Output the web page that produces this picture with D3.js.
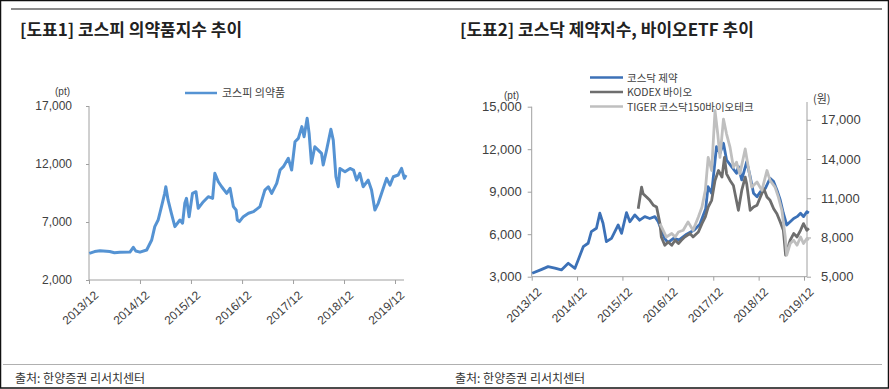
<!DOCTYPE html>
<html><head><meta charset="utf-8">
<script src="https://cdn.jsdelivr.net/npm/d3@7"></script>
<style>
body{margin:0;background:#fff;}
svg{display:block;}
text{font-family:"Liberation Sans","Noto Sans CJK KR",Arial,sans-serif;}
</style></head><body>
<svg id="c" width="889" height="389"></svg>
<script>
// ---------- DATA ----------
const xTickLabels = ["2013/12","2014/12","2015/12","2016/12","2017/12","2018/12","2019/12"];
const leftYTicks = [2000, 7000, 12000, 17000];
const rightLeftTicks = [3000, 6000, 9000, 12000, 15000];
const rightRightTicks = [5000, 8000, 11000, 14000, 17000];

const titles = ["[도표1] 코스피 의약품지수 추이", "[도표2] 코스닥 제약지수, 바이오ETF 추이"];
const sourceText = "출처: 한양증권 리서치센터";
const seriesNames = ["코스피 의약품", "코스닥 제약", "KODEX 바이오", "TIGER 코스닥150바이오테크"];

const kospiPharmaDates = ["2013-12-03","2014-01-10","2014-02-18","2014-04-28","2014-06-01","2014-07-10","2014-09-20","2014-10-14","2014-11-01","2014-12-01",
"2015-01-18","2015-02-23","2015-03-17","2015-04-10","2015-05-04","2015-05-27","2015-06-04","2015-06-20","2015-07-14","2015-08-08",
"2015-09-13","2015-10-02","2015-10-18","2015-10-30","2015-11-18","2015-12-12","2016-01-06","2016-01-22","2016-02-28","2016-04-03",
"2016-05-04","2016-05-20","2016-06-14","2016-07-08","2016-08-13","2016-09-06","2016-09-30","2016-10-19","2016-10-28","2016-11-12",
"2016-12-10","2017-01-16","2017-02-21","2017-04-08","2017-05-13","2017-06-07","2017-07-01","2017-08-06","2017-08-30","2017-09-23",
"2017-10-28","2017-11-21","2017-12-15","2018-01-08","2018-02-02","2018-02-18","2018-03-12","2018-03-26","2018-04-12","2018-05-06",
"2018-05-30","2018-06-23","2018-07-05","2018-07-29","2018-08-29","2018-09-15","2018-10-04","2018-10-21","2018-11-02","2018-12-08",
"2019-01-13","2019-02-07","2019-03-01","2019-03-24","2019-04-17","2019-05-23","2019-06-16","2019-07-10","2019-08-03","2019-08-27",
"2019-10-02","2019-10-26","2019-11-19","2019-12-24","2020-01-17","2020-02-06","2020-02-18"];
const kospiPharmaValues = [4300,4450,4530,4450,4350,4400,4410,4820,4500,4400,
4590,5450,6600,7170,8320,9470,10040,8900,7750,6600,
7170,6900,8610,9040,7460,9470,9610,8180,8750,9180,
9040,11200,10470,10040,9470,9900,8320,8030,7170,7030,
7460,7750,7890,8320,9750,10040,9470,10330,11480,11770,
12490,11480,13920,14210,15220,14350,15940,14640,12060,13490,
13200,12920,11920,13200,14990,14060,10900,10040,11620,11340,
11620,11480,10610,11200,10040,10610,9750,8030,8610,9470,
10760,10180,10900,11050,11620,10760,11050];

const kosdaqPharmaDates = ["2013-12-05","2014-02-20","2014-04-12","2014-06-05","2014-07-28","2014-09-21","2014-11-14","2014-12-10",
"2015-01-20","2015-02-28","2015-03-26","2015-05-06","2015-06-02","2015-06-28","2015-07-25","2015-09-04","2015-10-28","2015-11-24",
"2016-01-03","2016-01-30","2016-03-10","2016-04-18","2016-05-29","2016-07-08","2016-08-18","2016-09-14","2016-10-10","2016-11-05","2016-12-01",
"2017-01-15","2017-03-01","2017-05-01","2017-07-01","2017-08-15","2017-10-01","2017-10-20","2017-11-18","2017-12-27",
"2018-01-24","2018-02-21","2018-03-18","2018-04-27","2018-06-06","2018-06-21","2018-07-18","2018-08-27","2018-09-24","2018-10-21","2018-11-18","2018-12-15",
"2019-01-24","2019-03-03","2019-04-01","2019-04-27","2019-05-24","2019-06-18","2019-07-15","2019-08-12","2019-09-09","2019-10-06","2019-11-03","2019-11-27","2019-12-24","2020-01-09"];
const kosdaqPharmaValues = [3240,3520,3710,3600,3480,3950,3590,4180,
5120,5360,6180,6420,7480,6770,5470,5710,6650,6060,
7520,6880,7360,6990,7240,7110,7240,6880,6300,5700,5400,
5700,5600,6000,6300,6700,7800,9350,8890,12180,
11710,12420,11240,10770,10300,10770,9830,11120,10060,8890,8650,9000,
9240,9950,9710,9120,8410,7480,6650,6880,7110,7240,7480,7240,7590,7500];

const kodexDates = ["2016-04-06","2016-05-03","2016-05-15","2016-06-12","2016-07-09","2016-08-06","2016-09-01","2016-09-28","2016-10-09","2016-11-06","2016-12-03",
"2017-01-01","2017-01-28","2017-02-24","2017-03-19","2017-04-15","2017-05-28","2017-06-21","2017-08-03","2017-09-01","2017-09-28","2017-10-21","2017-11-18","2017-12-15",
"2018-01-12","2018-02-09","2018-03-01","2018-03-18","2018-04-15","2018-05-12","2018-06-21","2018-07-18","2018-08-15","2018-08-27","2018-09-24","2018-10-21","2018-11-18","2018-12-15",
"2019-01-12","2019-02-06","2019-03-03","2019-04-01","2019-04-27","2019-05-24","2019-06-18","2019-07-06","2019-08-12","2019-09-09","2019-10-06","2019-11-03","2019-11-27","2019-12-24","2020-01-09"];
const kodexValues = [10200,11850,11350,11090,10840,10460,10330,9060,8040,7410,7660,
7410,7790,7540,7790,8040,8300,8040,8420,9060,9570,10330,10840,12360,
13120,12620,14130,12870,12360,11980,10080,11600,12620,12110,10080,10330,10460,11090,
11730,11090,10840,10200,9820,9190,8550,6650,7790,8300,8040,8550,9060,8550,8700];

const tigerDates = ["2016-09-28","2016-10-24","2016-11-18","2017-01-01","2017-01-28","2017-02-24","2017-04-03","2017-05-12","2017-06-21","2017-08-03","2017-09-01","2017-09-28",
"2017-10-21","2017-11-18","2017-12-15","2018-01-06","2018-01-24","2018-02-21","2018-03-18","2018-04-15","2018-05-12","2018-06-06","2018-07-03","2018-08-15","2018-09-09",
"2018-10-06","2018-11-18","2018-12-27","2019-02-06","2019-03-03","2019-04-12","2019-05-09","2019-06-06","2019-07-03","2019-07-15","2019-08-12","2019-09-09","2019-10-06",
"2019-11-03","2019-11-27","2019-12-24","2020-01-09"];
const tigerValues = [9060,8550,8040,8300,8040,8420,8550,9190,8550,9570,10330,11600,
14130,13120,17690,15910,14130,17050,15910,14890,13370,13750,12870,14770,13370,
11850,12240,11600,13120,12360,11850,11090,10080,8040,6650,7540,7790,7410,
8040,7540,7920,7800];

// ---------- DRAW ----------
const svg = d3.select("#c");
const parse = d3.timeParse("%Y-%m-%d");
const tickDates = xTickLabels.map(s => new Date(+s.slice(0,4), +s.slice(5) - 1, 1));
const axisColor = "#a0a0a0", txtColor = "#404040";

// frame
svg.append("rect").attr("x",0.5).attr("y",0.5).attr("width",888).attr("height",387.5)
  .attr("fill","none").attr("stroke","#111").attr("stroke-width",1.5);
svg.append("line").attr("x1",11).attr("x2",882).attr("y1",9).attr("y2",9).attr("stroke","#8c8c8c").attr("stroke-width",2.2);
svg.append("line").attr("x1",3).attr("x2",882).attr("y1",364.5).attr("y2",364.5).attr("stroke","#b0b0b0").attr("stroke-width",1);

// titles
[[20, titles[0]], [460, titles[1]]].forEach(([x,t]) => {
  svg.append("text").attr("x",x).attr("y",36).attr("font-size",17).attr("font-weight","bold")
    .attr("fill","#222").style("font-family","'Noto Sans CJK KR',sans-serif").text(t);
});
[15, 455].forEach(x => {
  svg.append("text").attr("x",x).attr("y",383).attr("font-size",12).attr("fill","#333")
    .style("font-family","'Noto Sans CJK KR',sans-serif").text(sourceText);
});

function styleAxis(g, fs) {
  g.select(".domain").remove();
  g.selectAll(".tick line").attr("stroke", axisColor);
  g.selectAll(".tick text").attr("fill", txtColor).attr("font-size", fs)
    .style("font-family","'Liberation Sans',Arial,sans-serif");
}

// ===== LEFT CHART =====
{
  const x = d3.scaleTime().domain([tickDates[0], tickDates[6]]).range([89, 395]);
  const y = d3.scaleLinear().domain([2000, 17000]).range([280, 106]);
  svg.append("line").attr("x1",89).attr("x2",89).attr("y1",106).attr("y2",280).attr("stroke",axisColor);
  svg.append("line").attr("x1",89).attr("x2",404).attr("y1",280).attr("y2",280).attr("stroke",axisColor);
  const ya = svg.append("g").attr("transform","translate(89,0)")
    .call(d3.axisLeft(y).tickValues(leftYTicks).tickSize(3).tickPadding(14).tickFormat(d3.format(",")));
  styleAxis(ya, 12);
  const xa = svg.append("g").attr("transform","translate(0,280)")
    .call(d3.axisBottom(x).tickValues(tickDates).tickSize(4).tickFormat((d,i)=>xTickLabels[i]));
  styleAxis(xa, 12);
  xa.selectAll(".tick text").attr("text-anchor","end").attr("dy",0).attr("dx",0)
    .attr("transform","translate(5,11) rotate(-42)");
  svg.append("text").attr("x",70).attr("y",95).attr("text-anchor","end").attr("font-size",10).attr("fill",txtColor).text("(pt)");
  const data = kospiPharmaDates.map((d,i)=>({d:parse(d), v:kospiPharmaValues[i]}));
  svg.append("path").datum(data).attr("fill","none").attr("stroke","#5593d3").attr("stroke-width",3)
    .attr("stroke-linejoin","round")
    .attr("d", d3.line().x(p=>x(p.d)).y(p=>y(p.v)));
  svg.append("line").attr("x1",185).attr("x2",217).attr("y1",93).attr("y2",93).attr("stroke","#5593d3").attr("stroke-width",2.5);
  svg.append("text").attr("x",222).attr("y",97).attr("font-size",11).attr("fill",txtColor)
    .style("font-family","'Noto Sans CJK KR',sans-serif").text(seriesNames[0]);
}

// ===== RIGHT CHART =====
{
  const x = d3.scaleTime().domain([tickDates[0], tickDates[6]]).range([531.7, 804]);
  const yL = d3.scaleLinear().domain([3000, 15000]).range([276.7, 106.7]);
  const yR = d3.scaleLinear().domain([5000, 18000]).range([276.7, 106.7]);
  svg.append("line").attr("x1",531.7).attr("x2",531.7).attr("y1",106.7).attr("y2",276.7).attr("stroke",axisColor);
  svg.append("line").attr("x1",807).attr("x2",807).attr("y1",102).attr("y2",276.7).attr("stroke",axisColor);
  svg.append("line").attr("x1",531.7).attr("x2",807).attr("y1",276.7).attr("y2",276.7).attr("stroke",axisColor);
  const ya = svg.append("g").attr("transform","translate(531.7,0)")
    .call(d3.axisLeft(yL).tickValues(rightLeftTicks).tickSize(4).tickPadding(6).tickFormat(d3.format(",")));
  styleAxis(ya, 13);
  const yb = svg.append("g").attr("transform","translate(807,0)")
    .call(d3.axisRight(yR).tickValues(rightRightTicks).tickSize(4).tickPadding(10).tickFormat(d3.format(",")));
  styleAxis(yb, 13);
  const xa = svg.append("g").attr("transform","translate(0,276.7)")
    .call(d3.axisBottom(x).tickValues(tickDates).tickSize(4).tickFormat((d,i)=>xTickLabels[i]));
  styleAxis(xa, 12);
  xa.selectAll(".tick text").attr("text-anchor","end").attr("dy",0).attr("dx",0)
    .attr("transform","translate(5,11) rotate(-45)");
  svg.append("text").attr("x",519).attr("y",99).attr("text-anchor","end").attr("font-size",10).attr("fill",txtColor).text("(pt)");
  svg.append("text").attr("x",813).attr("y",103).attr("font-size",11).attr("fill",txtColor)
    .style("font-family","'Noto Sans CJK KR',sans-serif").text("(원)");

  const series = [
    {dates:kosdaqPharmaDates, vals:kosdaqPharmaValues, y:yL, color:"#3c71b7"},
    {dates:kodexDates, vals:kodexValues, y:yR, color:"#6e6e6e"},
    {dates:tigerDates, vals:tigerValues, y:yR, color:"#bfbfbf"}
  ];
  series.forEach((s,k) => {
    const data = s.dates.map((d,i)=>({d:parse(d), v:s.vals[i]}));
    svg.append("path").datum(data).attr("fill","none").attr("stroke",s.color).attr("stroke-width",2.8)
      .attr("stroke-linejoin","round")
      .attr("d", d3.line().x(p=>x(p.d)).y(p=>s.y(p.v)));
    const ly = 77.5 + k*14.5;
    svg.append("line").attr("x1",590).attr("x2",623).attr("y1",ly).attr("y2",ly).attr("stroke",s.color).attr("stroke-width",2.5);
    svg.append("text").attr("x",627).attr("y",ly+4).attr("font-size",10.5).attr("fill",txtColor)
      .style("font-family","'Noto Sans CJK KR',sans-serif").text(seriesNames[k+1]);
  });
}
</script>
</body></html>
